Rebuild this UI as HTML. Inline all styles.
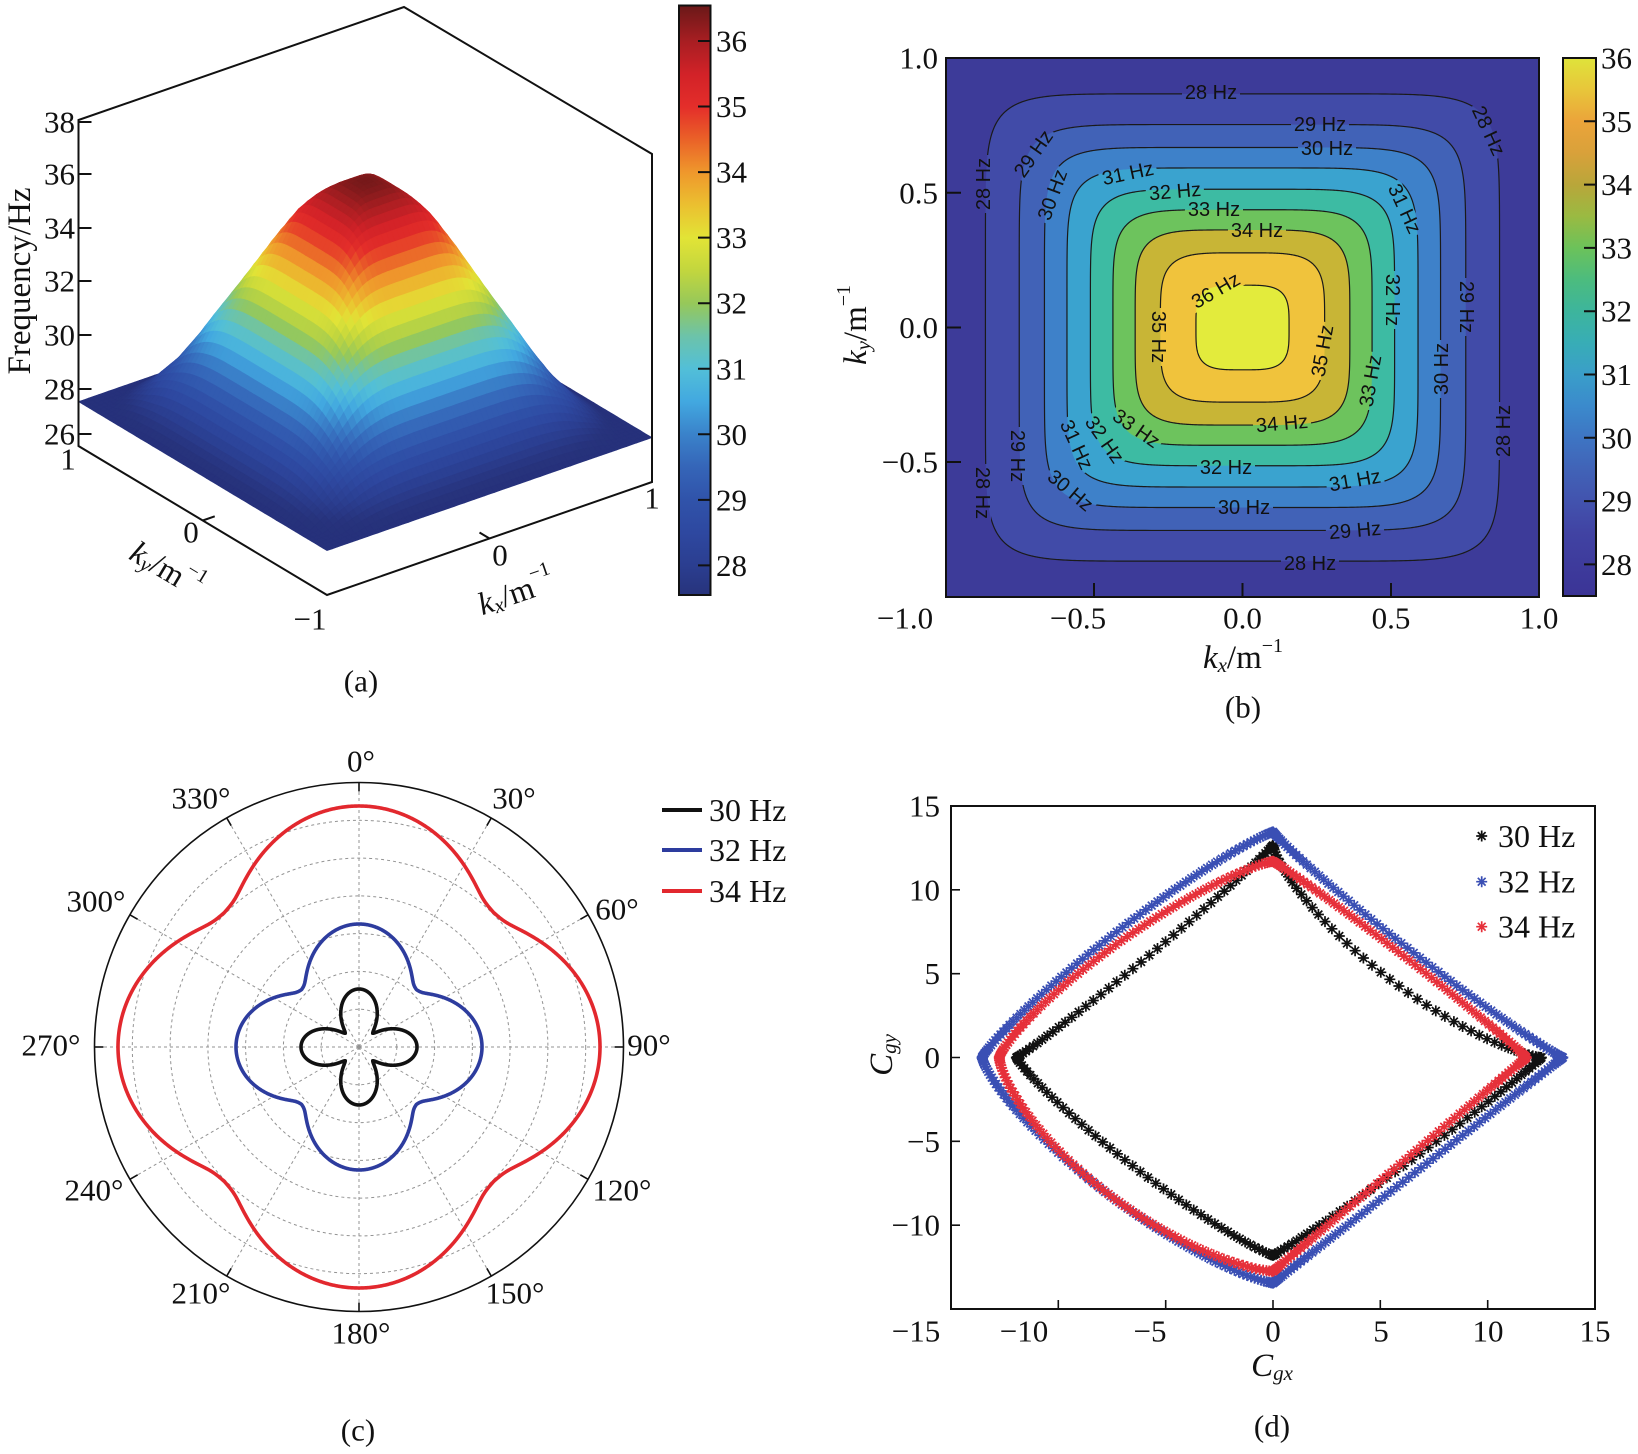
<!DOCTYPE html>
<html><head><meta charset="utf-8"><title>fig</title>
<style>
html,body{margin:0;padding:0;background:#fff;width:1638px;height:1454px;overflow:hidden}
svg{display:block}
</style></head><body>
<svg id="S" xmlns="http://www.w3.org/2000/svg" width="1638" height="1454" viewBox="0 0 1638 1454" font-family="'Liberation Serif', serif" fill="#111">
<defs>
 <linearGradient id="gjet" gradientUnits="userSpaceOnUse" x1="0" y1="595" x2="0" y2="5.5">
  <stop offset="0" stop-color="#27337c"/><stop offset="0.05" stop-color="#2b3e90"/><stop offset="0.1056" stop-color="#2e48a0"/>
  <stop offset="0.1611" stop-color="#3053aa"/><stop offset="0.2167" stop-color="#3565b8"/><stop offset="0.2722" stop-color="#3a82ca"/>
  <stop offset="0.3278" stop-color="#42a8e0"/><stop offset="0.3833" stop-color="#52bfd8"/><stop offset="0.4389" stop-color="#6cc3aa"/>
  <stop offset="0.4944" stop-color="#96c85a"/><stop offset="0.55" stop-color="#c2d63e"/><stop offset="0.6056" stop-color="#e2e436"/>
  <stop offset="0.6611" stop-color="#ebc030"/><stop offset="0.7167" stop-color="#ef982c"/><stop offset="0.7722" stop-color="#ea6228"/>
  <stop offset="0.8278" stop-color="#e42e2a"/><stop offset="0.8833" stop-color="#d22228"/><stop offset="0.9389" stop-color="#a81e22"/>
  <stop offset="1" stop-color="#6a1818"/>
 </linearGradient>
 <linearGradient id="gvir" gradientUnits="userSpaceOnUse" x1="0" y1="596" x2="0" y2="58">
  <stop offset="0" stop-color="#3b3496"/><stop offset="0.0588" stop-color="#3e3b9c"/><stop offset="0.1176" stop-color="#4143a3"/>
  <stop offset="0.1765" stop-color="#4253ae"/><stop offset="0.2353" stop-color="#4163b7"/><stop offset="0.2941" stop-color="#3e75c3"/>
  <stop offset="0.3529" stop-color="#3b8acc"/><stop offset="0.4118" stop-color="#3a9ec9"/><stop offset="0.4706" stop-color="#38adb6"/>
  <stop offset="0.5294" stop-color="#3db59c"/><stop offset="0.5882" stop-color="#4cbc7e"/><stop offset="0.6471" stop-color="#6cc25a"/>
  <stop offset="0.7059" stop-color="#9aba42"/><stop offset="0.7647" stop-color="#b9a63a"/><stop offset="0.8235" stop-color="#d9a13a"/>
  <stop offset="0.8824" stop-color="#eba43a"/><stop offset="0.9412" stop-color="#e8c63a"/><stop offset="1" stop-color="#dfe33a"/>
 </linearGradient>
 <clipPath id="cpb"><rect x="946" y="58" width="593" height="539"/></clipPath>
 <mask id="mb" maskUnits="userSpaceOnUse" x="900" y="40" width="700" height="600">
  <rect x="900" y="40" width="700" height="600" fill="#fff"/><g id="mbg"></g>
 </mask>
</defs>
<rect width="1638" height="1454" fill="#fff"/>

<!-- ============ (a) ============ -->
<g id="surf"></g>
<g stroke="#111" stroke-width="2" fill="none">
 <path d="M78.5,446 V120 L404,7 L652,154 V482 L327,595 Z"/>
 <path d="M78.5,122h13M78.5,174h13M78.5,228h13M78.5,281h13M78.5,335h13M78.5,389h13M78.5,434h13"/>
 <path d="M202.75,520.5 l12,-4.2 M489.5,538.5 l-10,-6"/>
</g>
<g font-size="31" text-anchor="end" dominant-baseline="central">
 <text x="75" y="122">38</text><text x="75" y="174">36</text><text x="75" y="228">34</text>
 <text x="75" y="281">32</text><text x="75" y="335">30</text><text x="75" y="389">28</text><text x="75" y="434">26</text>
</g>
<text transform="translate(20,281) rotate(-90)" font-size="33" text-anchor="middle" dominant-baseline="central">Frequency/Hz</text>
<g font-size="31" text-anchor="middle" dominant-baseline="central">
 <text x="68" y="459">1</text><text x="191" y="532">0</text><text x="310" y="619">−1</text>
 <text x="500" y="555">0</text><text x="652" y="498">1</text>
 <text x="361" y="681">(a)</text>
</g>
<text transform="translate(167,569) rotate(31)" font-size="32" text-anchor="middle" dominant-baseline="central"><tspan font-style="italic">k</tspan><tspan font-style="italic" font-size="21" dy="7">y</tspan><tspan dy="-7">/m</tspan><tspan font-size="20" dy="-12">−1</tspan></text>
<text transform="translate(516,592) rotate(-19)" font-size="32" text-anchor="middle" dominant-baseline="central"><tspan font-style="italic">k</tspan><tspan font-style="italic" font-size="21" dy="7">x</tspan><tspan dy="-7">/m</tspan><tspan font-size="20" dy="-12">−1</tspan></text>
<!-- colorbar a -->
<rect x="679" y="5.5" width="31.5" height="589.5" fill="url(#gjet)" stroke="#111" stroke-width="2"/>
<path stroke="#111" stroke-width="2" d="M698,41H710M698,106.5H710M698,172.1H710M698,237.6H710M698,303.2H710M698,368.8H710M698,434.3H710M698,499.9H710M698,565.4H710"/>
<g font-size="31" dominant-baseline="central">
 <text x="716" y="41">36</text><text x="716" y="106.5">35</text><text x="716" y="172.1">34</text><text x="716" y="237.6">33</text>
 <text x="716" y="303.2">32</text><text x="716" y="368.8">31</text><text x="716" y="434.3">30</text><text x="716" y="499.9">29</text><text x="716" y="565.4">28</text>
</g>

<!-- ============ (b) ============ -->
<g clip-path="url(#cpb)">
 <rect x="946" y="58" width="593" height="539" fill="#3d3b99"/>
 <g id="bands"></g>
 <g id="clines" mask="url(#mb)"></g>
 <g id="clabels"></g>
</g>
<rect x="946" y="58" width="593" height="539" fill="none" stroke="#111" stroke-width="2"/>
<path stroke="#111" stroke-width="2" d="M1094,597v-14M1242.5,597v-14M1391,597v-14M946,192.7h15M946,327.5h15M946,462h15"/>
<g font-size="31" text-anchor="end" dominant-baseline="central">
 <text x="938" y="58">1.0</text><text x="938" y="193">0.5</text><text x="938" y="327.5">0.0</text><text x="938" y="462">−0.5</text>
</g>
<g font-size="31" text-anchor="middle" dominant-baseline="central">
 <text x="905" y="618">−1.0</text><text x="1078" y="618">−0.5</text><text x="1242.5" y="618">0.0</text>
 <text x="1391" y="618">0.5</text><text x="1539" y="618">1.0</text>
 <text x="1243" y="707">(b)</text>
</g>
<text transform="translate(856,325) rotate(-90)" font-size="33" text-anchor="middle" dominant-baseline="central"><tspan font-style="italic">k</tspan><tspan font-style="italic" font-size="21" dy="7">y</tspan><tspan dy="-7">/m</tspan><tspan font-size="20" dy="-12">−1</tspan></text>
<text x="1243" y="658" font-size="33" text-anchor="middle" dominant-baseline="central"><tspan font-style="italic">k</tspan><tspan font-style="italic" font-size="21" dy="7">x</tspan><tspan dy="-7">/m</tspan><tspan font-size="20" dy="-12">−1</tspan></text>
<!-- colorbar b -->
<rect x="1563" y="58" width="33" height="538" fill="url(#gvir)" stroke="#111" stroke-width="2"/>
<path stroke="#111" stroke-width="2" d="M1584,121.3H1596M1584,184.6H1596M1584,247.9H1596M1584,311.2H1596M1584,374.5H1596M1584,437.8H1596M1584,501.1H1596M1584,564.4H1596"/>
<g font-size="31" dominant-baseline="central">
 <text x="1601" y="58">36</text><text x="1601" y="121.3">35</text><text x="1601" y="184.6">34</text><text x="1601" y="247.9">33</text>
 <text x="1601" y="311.2">32</text><text x="1601" y="374.5">31</text><text x="1601" y="437.8">30</text><text x="1601" y="501.1">29</text><text x="1601" y="564.4">28</text>
</g>

<!-- ============ (c) ============ -->
<g id="pgrid" fill="none" stroke="#939393" stroke-width="1" stroke-dasharray="3,3"></g>
<circle cx="359" cy="1047" r="264.5" fill="none" stroke="#111" stroke-width="1.6"/>
<g id="pticks" stroke="#111" stroke-width="1.6"></g>
<g id="polar"></g>
<g font-size="31" text-anchor="middle" dominant-baseline="central">
 <text x="361" y="761">0°</text><text x="514" y="798">30°</text><text x="617" y="909">60°</text><text x="649" y="1045">90°</text>
 <text x="622" y="1190">120°</text><text x="515" y="1293">150°</text><text x="361" y="1333">180°</text><text x="201" y="1293">210°</text>
 <text x="94" y="1190">240°</text><text x="51" y="1045">270°</text><text x="96" y="901">300°</text><text x="201" y="798">330°</text>
 <text x="358" y="1430">(c)</text>
</g>
<g stroke-width="4">
 <path d="M662,810H702" stroke="#111"/><path d="M662,850H702" stroke="#2d3c9e"/><path d="M662,891H702" stroke="#e2282e"/>
</g>
<g font-size="32" dominant-baseline="central">
 <text x="709" y="810">30 Hz</text><text x="709" y="850">32 Hz</text><text x="709" y="891">34 Hz</text>
</g>

<!-- ============ (d) ============ -->
<g id="scat"></g>
<rect x="951" y="806" width="644" height="503" fill="none" stroke="#111" stroke-width="2"/>
<path stroke="#111" stroke-width="1.6" d="M1058.3,1309v-9M1165.7,1309v-9M1273,1309v-9M1380.3,1309v-9M1487.7,1309v-9M951,889.8h9M951,973.7h9M951,1057.5h9M951,1141.3h9M951,1225.2h9"/>
<g font-size="31" text-anchor="end" dominant-baseline="central">
 <text x="940" y="806">15</text><text x="940" y="889.8">10</text><text x="940" y="973.7">5</text>
 <text x="940" y="1057.5">0</text><text x="940" y="1141.3">−5</text><text x="940" y="1225.2">−10</text>
</g>
<g font-size="31" text-anchor="middle" dominant-baseline="central">
 <text x="916" y="1331">−15</text><text x="1024" y="1331">−10</text><text x="1150" y="1331">−5</text><text x="1273" y="1331">0</text>
 <text x="1381" y="1331">5</text><text x="1488" y="1331">10</text><text x="1595" y="1331">15</text>
 <text x="1272" y="1426">(d)</text>
</g>
<text transform="translate(882,1055) rotate(-90)" font-size="33" text-anchor="middle" dominant-baseline="central"><tspan font-style="italic">C</tspan><tspan font-style="italic" font-size="21" dy="7">gy</tspan></text>
<text x="1272" y="1366" font-size="33" text-anchor="middle" dominant-baseline="central"><tspan font-style="italic">C</tspan><tspan font-style="italic" font-size="21" dy="7">gx</tspan></text>
<g id="dleg"></g>
<g font-size="32" dominant-baseline="central">
 <text x="1498" y="836">30 Hz</text><text x="1498" y="881.7">32 Hz</text><text x="1498" y="926.7">34 Hz</text>
</g>
</svg>
<script>
(function(){
var NS="http://www.w3.org/2000/svg";
function E(t,a,p){var e=document.createElementNS(NS,t);for(var k in a)e.setAttribute(k,a[k]);if(p)p.appendChild(e);return e;}
function hx(c){return [1,3,5].map(function(i){return parseInt(c.substr(i,2),16);});}
function cm(st,v){if(v<=st[0][0])return st[0][1];for(var i=1;i<st.length;i++){if(v<=st[i][0]){var t=(v-st[i-1][0])/(st[i][0]-st[i-1][0]);var a=hx(st[i-1][1]),b=hx(st[i][1]);return 'rgb('+a.map(function(x,k){return Math.round(x+(b[k]-x)*t);}).join(',')+')';}}return st[st.length-1][1];}

/* ---------- (a) surface ---------- */
var jet=[[27.2,'#25307a'],[27.55,'#27337c'],[28,'#2b3e90'],[28.5,'#2e48a0'],[29,'#3053aa'],[29.5,'#3565b8'],[30,'#3a82ca'],[30.5,'#42a8e0'],[31,'#52bfd8'],[31.5,'#6cc3aa'],[32,'#96c85a'],[32.5,'#c2d63e'],[33,'#e2e436'],[33.5,'#ebc030'],[34,'#ef982c'],[34.5,'#ea6228'],[35,'#e42e2a'],[35.5,'#d22228'],[36,'#a81e22'],[36.55,'#6a1818']];
var prof=[[0.277,35.05],[0.362,34],[0.437,33],[0.513,32],[0.592,31],[0.668,30],[0.753,29],[0.867,28],[0.99,27.3],[3,27.3]];
function F(r){if(r<0.277)return 36.45-18.26*r*r;for(var i=1;i<prof.length;i++){if(r<=prof[i][0]){var t=(r-prof[i-1][0])/(prof[i][0]-prof[i-1][0]);return prof[i-1][1]+t*(prof[i][1]-prof[i-1][1]);}}return 27.3;}
function fz(x,y){var ax=Math.abs(x),ay=Math.abs(y);var m=Math.max(ax,ay);if(m===0)return F(0);var p=5.5;var r=m*Math.pow(Math.pow(ax/m,p)+Math.pow(ay/m,p),1/p);return F(r);}
function P(x,y,z){return [365.25+162.5*x-124.25*y,464-56.5*x-74.5*y-26.1*(z-25.6)];}
var N=64,g=document.getElementById('surf');
var Z=[];for(var i=0;i<=N;i++){Z.push([]);for(var j=0;j<=N;j++){Z[i].push(fz(-1+2*i/N,-1+2*j/N));}}
var q=[];for(i=0;i<N;i++)for(j=0;j<N;j++)q.push([i+j,i,j]);
q.sort(function(a,b){return b[0]-a[0];});
var frag=document.createDocumentFragment();
var cc=[[0,0],[1,0],[1,1],[0,1]];
q.forEach(function(it){var i=it[1],j=it[2];var s='',zs=0;cc.forEach(function(k,n){var z=Z[i+k[0]][j+k[1]];zs+=z;var pp=P(-1+2*(i+k[0])/N,-1+2*(j+k[1])/N,z);s+=(n?'L':'M')+pp[0].toFixed(1)+','+pp[1].toFixed(1);});var col=cm(jet,zs/4);E('path',{d:s+'Z',fill:col,stroke:col,'stroke-width':'0.7','stroke-linejoin':'round'},frag);});
g.appendChild(frag);

/* ---------- (b) contours ---------- */
var bg=document.getElementById('bands'),lg=document.getElementById('clines'),tg=document.getElementById('clabels'),mg=document.getElementById('mbg');
var cx=1242.5,cy=327.5,sx=296.5,sy=269.5;
var lv=[[28,0.867,8.7,'#414ba8'],[29,0.753,8.1,'#4162b7'],[30,0.668,7.5,'#3e81c9'],[31,0.592,6.9,'#3aa3cf'],[32,0.513,6.25,'#3dbba3'],[33,0.437,5.6,'#6dc35d'],[34,0.362,5.0,'#c8b536'],[35,0.277,4.4,'#f0c33c'],[36,0.157,3.8,'#e3eb3c']];
function sq(a,p){var d='',M=720;for(var k=0;k<M;k++){var t=2*Math.PI*k/M;var c=Math.cos(t),s=Math.sin(t);var x=cx+a*sx*Math.sign(c)*Math.pow(Math.abs(c),2/p);var y=cy-a*sy*Math.sign(s)*Math.pow(Math.abs(s),2/p);d+=(k?'L':'M')+x.toFixed(2)+','+y.toFixed(2);}return d+'Z';}
lv.forEach(function(L){var d=sq(L[1],L[2]);E('path',{d:d,fill:L[3]},bg);E('path',{d:d,fill:'none',stroke:'#1a1a1a','stroke-width':'1.2'},lg);});
var labs=[[1211,93,0,'28'],[1488,131,65,'28'],[1320,125,0,'29'],[1327,149,0,'30'],[1034,154,-55,'29'],[984,184,-90,'28'],[1053,195,-70,'30'],[1128,174,-12,'31'],[1175,192,-5,'32'],[1214,210,0,'33'],[1257,231,0,'34'],[1404,209,65,'31'],[1216,291,-30,'36'],[1158,337,90,'35'],[1323,351,-80,'35'],[1392,300,90,'32'],[1466,307,90,'29'],[1371,381,-80,'33'],[1442,369,-90,'30'],[1504,431,-90,'28'],[1282,424,-5,'34'],[1136,429,35,'33'],[1104,440,55,'32'],[1076,445,65,'31'],[1017,456,90,'29'],[1226,468,0,'32'],[1355,481,-10,'31'],[1070,491,40,'30'],[982,493,90,'28'],[1244,508,0,'30'],[1355,531,-5,'29'],[1310,564,0,'28']];
labs.forEach(function(l){var tr='translate('+l[0]+','+l[1]+') rotate('+l[2]+')';E('rect',{x:-29,y:-9,width:58,height:18,fill:'#000',transform:tr},mg);var te=E('text',{x:0,y:0,transform:tr,'text-anchor':'middle','dominant-baseline':'central','font-family':"'Liberation Sans', sans-serif",'font-size':'20',fill:'#111'},tg);te.textContent=l[3]+' Hz';});

/* ---------- (c) polar ---------- */
var pg=document.getElementById('pgrid'),pt=document.getElementById('pticks'),cg=document.getElementById('polar');
var R=264.5,CX=359,CY=1047;
for(var k=1;k<=6;k++)E('circle',{cx:CX,cy:CY,r:(R*k/7).toFixed(1)},pg);
for(k=0;k<12;k++){var a=k*30*Math.PI/180;E('line',{x1:CX,y1:CY,x2:(CX+R*Math.sin(a)).toFixed(1),y2:(CY-R*Math.cos(a)).toFixed(1)},pg);E('line',{x1:(CX+(R-9)*Math.sin(a)).toFixed(1),y1:(CY-(R-9)*Math.cos(a)).toFixed(1),x2:(CX+R*Math.sin(a)).toFixed(1),y2:(CY-R*Math.cos(a)).toFixed(1)},pt);}
function ww(u,c,e){return ((u-c)+Math.sqrt((u-c)*(u-c)+e*e))/2;}
function pc(ra,rd,col,c,e){var n1=ww(1,c,e);var d='';for(var k=0;k<=1440;k++){var deg=k*0.25;var th=deg*Math.PI/180;var ph=deg%90;var u=Math.abs(ph-45)/45;var w=ww(u,c,e)/n1;var s=Math.sin(Math.PI*w/2);var r=rd+(ra-rd)*s;var x=CX+r*Math.sin(th),y=CY-r*Math.cos(th);d+=(k?'L':'M')+x.toFixed(2)+','+y.toFixed(2);}E('path',{d:d+'Z',fill:'none',stroke:col,'stroke-width':'3.6','stroke-linejoin':'round'},cg);}
pc(241,189,'#e2282e',0.1,0.08);pc(123,80,'#2d3c9e',0.08,0.08);pc(58,18,'#111',0.05,0.08);

/* ---------- (d) scatter ---------- */
var dg=document.getElementById('scat');
function X(v){return 1273+v*21.47;}function Y(v){return 1057.5-v*16.77;}
function ast(x,y){return 'M'+(x-5.5).toFixed(1)+','+y.toFixed(1)+'h11M'+x.toFixed(1)+','+(y-5.5).toFixed(1)+'v11M'+(x-3.9).toFixed(1)+','+(y-3.9).toFixed(1)+'l7.8,7.8M'+(x-3.9).toFixed(1)+','+(y+3.9).toFixed(1)+'l7.8,-7.8';}
function sc(t,ps,N,col){var d='';var Q=[[t[0],t[1],1,1,ps[0]],[t[2],t[1],-1,1,ps[1]],[t[2],t[3],-1,-1,ps[2]],[t[0],t[3],1,-1,ps[3]]];Q.forEach(function(qq){for(var k=0;k<=N;k++){var th=k/N*Math.PI/2;var x=qq[2]*qq[0]*Math.pow(Math.abs(Math.cos(th)),2/qq[4]),y=qq[3]*qq[1]*Math.pow(Math.abs(Math.sin(th)),2/qq[4]);d+=ast(X(x),Y(y));}});E('path',{d:d,fill:'none',stroke:col,'stroke-width':'1.7'},dg);}
sc([12.5,12.65,11.95,11.8],[0.76,0.95,1.15,1.05],50,'#111');
sc([13.5,13.45,13.55,13.45],[0.93,1.15,1.3,1.0],75,'#3a4fb4');
sc([11.8,11.7,12.75,12.75],[1.05,1.25,1.45,1.0],70,'#e6303a');
var lgd=document.getElementById('dleg');
E('path',{d:ast(1481.7,836),fill:'none',stroke:'#111','stroke-width':'1.7'},lgd);
E('path',{d:ast(1481.7,881.7),fill:'none',stroke:'#3a4fb4','stroke-width':'1.7'},lgd);
E('path',{d:ast(1481.7,926.7),fill:'none',stroke:'#e6303a','stroke-width':'1.7'},lgd);
})();
</script>
</body></html>
